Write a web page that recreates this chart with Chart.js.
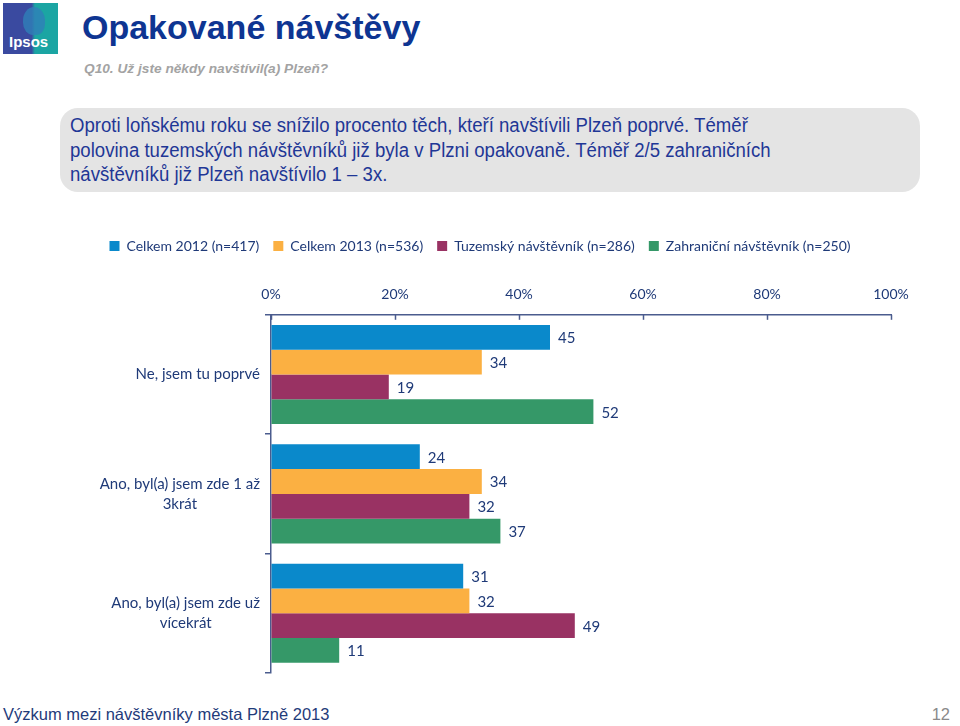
<!DOCTYPE html>
<html><head><meta charset="utf-8">
<script src="https://cdn.jsdelivr.net/npm/chart.js@4.4.0/dist/chart.umd.min.js"></script>
<style>
body{margin:0;width:960px;height:726px;background:#fff;position:relative;overflow:hidden;font-family:'Liberation Sans',Arial,sans-serif}
#logo{position:absolute;left:3px;top:3px;width:55px;height:51px;background:linear-gradient(90deg,#3A4AA0 0%,#3A4AA0 52%,#1BA5A3 58%,#1BA5A3 100%);overflow:hidden}
#logo .head{position:absolute;left:20px;top:4px;width:22px;height:28px;border-radius:50% 50% 40% 45%;background:#2F7FB8;opacity:.8}
#logo span{position:absolute;left:6px;bottom:4px;color:#fff;font:bold 15px 'Liberation Sans',Arial,sans-serif}
#title{position:absolute;left:82px;top:8px;font:bold 34px 'Liberation Sans',Arial,sans-serif;color:#0E3592;white-space:nowrap}
#sub{position:absolute;left:84px;top:61px;font:italic bold 13.7px 'Liberation Sans',Arial,sans-serif;color:#A3A3A3;white-space:nowrap}
#box{position:absolute;left:60px;top:108px;width:860px;height:84px;background:#E4E4E4;border-radius:18px}
#box div{position:absolute;left:10px;top:5px;font:20px 'Liberation Sans',Arial,sans-serif;line-height:24.5px;color:#1F3796;white-space:nowrap;transform:scaleX(0.93);transform-origin:0 0}
#foot{position:absolute;left:3px;top:705px;font:16.5px 'Liberation Sans',Arial,sans-serif;color:#1F3B7A;white-space:nowrap}
#page{position:absolute;right:10px;top:705px;font:16.5px 'Liberation Sans',Arial,sans-serif;color:#8A8A8A}
canvas{position:absolute;left:0;top:222px}
</style></head>
<body>
<div id="logo"><div class="head"></div><span>Ipsos</span></div>
<div id="title">Opakované návštěvy</div>
<div id="sub">Q10. Už jste někdy navštívil(a) Plzeň?</div>
<div id="box"><div>Oproti loňskému roku se snížilo procento těch, kteří navštívili Plzeň poprvé. Téměř<br>polovina tuzemských návštěvníků již byla v Plzni opakovaně. Téměř 2/5 zahraničních<br>návštěvníků již Plzeň navštívilo 1 – 3x.</div></div>
<canvas id="c" width="960" height="478"></canvas>
<div id="foot">Výzkum mezi návštěvníky města Plzně 2013</div>
<div id="page">12</div>
<script>
const categories = [['Ne, jsem tu poprvé'], ['Ano, byl(a) jsem zde 1 až', '3krát'], ['Ano, byl(a) jsem zde už', 'vícekrát']];
const seriesNames = ['Celkem 2012 (n=417)', 'Celkem 2013 (n=536)', 'Tuzemský návštěvník (n=286)', 'Zahraniční návštěvník (n=250)'];
const celkem2012 = [45, 24, 31];
const celkem2013 = [34, 34, 32];
const tuzemsky = [19, 32, 49];
const zahranicni = [52, 37, 11];
const xTicks = [0, 20, 40, 60, 80, 100];

const colors = ['#0A89CB', '#FBB042', '#993263', '#359868'];
const textColor = '#1F3A78';
const axisColor = '#4B5C8E';
const font = "Lato, 'Open Sans', sans-serif";

const custom = {
  id: 'custom',
  afterDraw(chart) {
    const ctx = chart.ctx, xs = chart.scales.x, ys = chart.scales.y, ca = chart.chartArea;
    ctx.save();
    ctx.strokeStyle = axisColor; ctx.lineWidth = 1.5;
    xTicks.forEach(v => {
      const px = Math.round(xs.getPixelForValue(v)) + 0.5;
      ctx.beginPath(); ctx.moveTo(px, ca.top); ctx.lineTo(px, ca.top + 5); ctx.stroke();
    });
    ctx.fillStyle = textColor;
    ctx.font = '15px ' + font;
    ctx.textBaseline = 'middle';
    ctx.textAlign = 'left';
    chart.data.datasets.forEach((ds, di) => {
      chart.getDatasetMeta(di).data.forEach((bar, i) => {
        ctx.fillText(String(ds.data[i]), bar.x + 8, bar.y + 1);
      });
    });
    ctx.textAlign = 'center';
    categories.forEach((lines, i) => {
      const cy = ys.getPixelForValue(i);
      const w = Math.max(...lines.map(l => ctx.measureText(l).width));
      const right = ca.left - 11;
      const lh = 20;
      lines.forEach((l, k) => {
        ctx.fillText(l, right - w / 2, cy + (k - (lines.length - 1) / 2) * lh);
      });
    });
    ctx.restore();
  }
};

new Chart(document.getElementById('c'), {
  type: 'bar',
  data: {
    labels: categories,
    datasets: [
      { label: seriesNames[0], data: celkem2012, backgroundColor: colors[0] },
      { label: seriesNames[1], data: celkem2013, backgroundColor: colors[1] },
      { label: seriesNames[2], data: tuzemsky, backgroundColor: colors[2] },
      { label: seriesNames[3], data: zahranicni, backgroundColor: colors[3] }
    ]
  },
  options: {
    indexAxis: 'y',
    responsive: false,
    animation: false,
    layout: { padding: { left: 0, right: 0, top: 3, bottom: 27 } },
    datasets: { bar: { categoryPercentage: 0.83, barPercentage: 1.0, borderWidth: 0 } },
    plugins: {
      legend: {
        position: 'top',
        labels: { boxWidth: 10, boxHeight: 10, padding: 14, color: textColor, font: { family: font, size: 14 } }
      },
      tooltip: { enabled: false }
    },
    scales: {
      x: {
        position: 'top', min: 0, max: 100,
        afterBuildTicks: s => { s.ticks = xTicks.map(v => ({ value: v })); },
        afterFit: s => { s.height += 11; },
        ticks: { callback: v => v + '%', color: textColor, font: { family: font, size: 14 }, padding: 12, maxRotation: 0 },
        grid: { display: true, drawOnChartArea: false, drawTicks: false },
        border: { display: true, color: axisColor, width: 1.5 }
      },
      y: {
        afterFit: s => { s.width = 271; },
        ticks: { display: false },
        grid: { display: true, offset: true, drawOnChartArea: false, drawTicks: true, tickLength: 6, color: axisColor, lineWidth: 1.5 },
        border: { display: true, color: axisColor, width: 1.5 }
      },
      y2: {
        axis: 'y', type: 'linear', position: 'right', display: true,
        afterFit: s => { s.width = 69; },
        ticks: { display: false },
        grid: { display: false, drawTicks: false },
        border: { display: false }
      }
    }
  },
  plugins: [custom]
});
</script>
</body></html>
